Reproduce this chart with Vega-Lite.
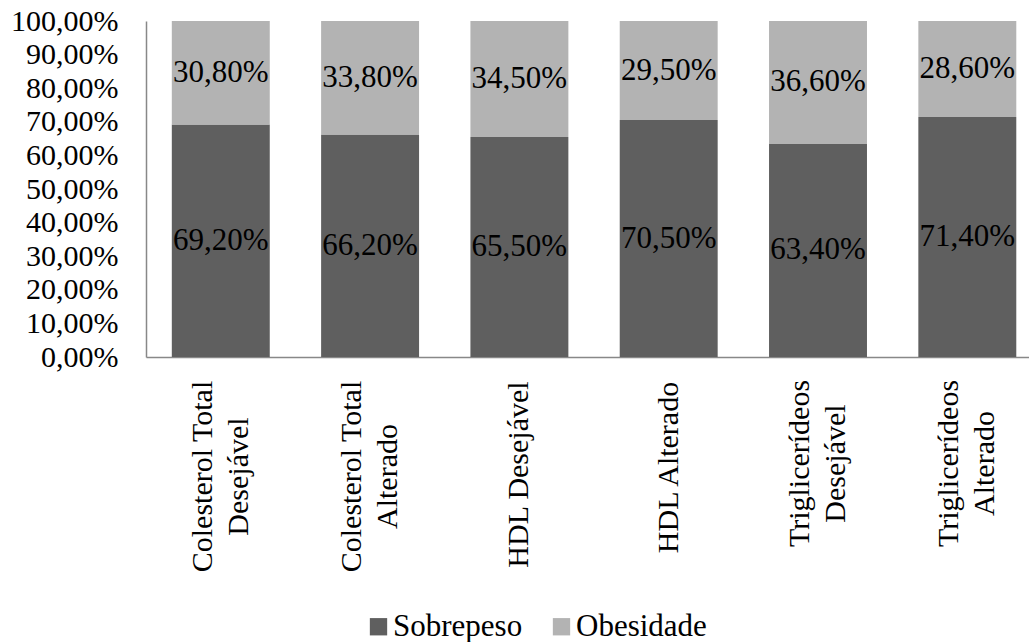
{
  "$schema": "https://vega.github.io/schema/vega-lite/v6.json",
  "width": 883,
  "height": 336,
  "autosize": {"type": "none"},
  "padding": {"left": 146, "top": 21, "right": 0, "bottom": 285},
  "config": {
    "locale": {"number": {"decimal": ",", "thousands": ".", "grouping": [3], "currency": ["", " €"]}},
    "view": {"stroke": null},
    "font": "'Liberation Serif', 'Times New Roman', serif",
    "axis": {"labelFont": "'Liberation Serif', 'Times New Roman', serif"},
    "legend": {"labelFont": "'Liberation Serif', 'Times New Roman', serif"},
    "text": {"font": "'Liberation Serif', 'Times New Roman', serif"}
  },
  "data": {
    "values": [
      {"cat": "Colesterol Total|Desejável", "serie": "Sobrepeso", "v": 0.692},
      {"cat": "Colesterol Total|Desejável", "serie": "Obesidade", "v": 0.308},
      {"cat": "Colesterol Total|Alterado", "serie": "Sobrepeso", "v": 0.662},
      {"cat": "Colesterol Total|Alterado", "serie": "Obesidade", "v": 0.338},
      {"cat": "HDL Desejável", "serie": "Sobrepeso", "v": 0.655},
      {"cat": "HDL Desejável", "serie": "Obesidade", "v": 0.345},
      {"cat": "HDL Alterado", "serie": "Sobrepeso", "v": 0.705},
      {"cat": "HDL Alterado", "serie": "Obesidade", "v": 0.295},
      {"cat": "Triglicerídeos|Desejável", "serie": "Sobrepeso", "v": 0.634},
      {"cat": "Triglicerídeos|Desejável", "serie": "Obesidade", "v": 0.366},
      {"cat": "Triglicerídeos|Alterado", "serie": "Sobrepeso", "v": 0.714},
      {"cat": "Triglicerídeos|Alterado", "serie": "Obesidade", "v": 0.286}
    ]
  },
  "transform": [
    {"stack": "v", "groupby": ["cat"], "sort": [{"field": "serie", "order": "descending"}], "as": ["v0", "v1"]},
    {"calculate": "(datum.v0 + datum.v1) / 2", "as": "vmid"}
  ],
  "encoding": {
    "x": {
      "field": "cat",
      "type": "nominal",
      "sort": null,
      "scale": {"paddingInner": 0.344, "paddingOuter": 0.129, "align": 0.67},
      "axis": {
        "title": null,
        "labelAngle": -90,
        "labelAlign": "center",
        "labelBaseline": "middle",
        "labelExpr": "split(datum.label, '|')",
        "labelOffset": {"condition": {"test": "indexof(datum.value, '|') >= 0", "value": -18}, "value": 0},
        "labelPadding": {
          "condition": [
            {"test": "indexof(datum.value, 'Colesterol') >= 0", "value": 119},
            {"test": "datum.value === 'HDL Desejável'", "value": 117},
            {"test": "datum.value === 'HDL Alterado'", "value": 110}
          ],
          "value": 106
        },
        "ticks": false,
        "labelFontSize": 30,
        "labelColor": "#000000",
        "labelLineHeight": 36,
        "labelLimit": 0,
        "labelOverlap": false,
        "domainColor": "#888888",
        "domainWidth": 1.5
      }
    },
    "y": {
      "type": "quantitative",
      "scale": {"domain": [0, 1], "nice": false},
      "axis": {
        "title": null,
        "values": [0, 0.1, 0.2, 0.3, 0.4, 0.5, 0.6, 0.7, 0.8, 0.9, 1],
        "format": ".2%",
        "ticks": false,
        "grid": false,
        "labelFontSize": 30,
        "labelColor": "#000000",
        "labelPadding": 28,
        "labelOverlap": false,
        "labelFlush": false,
        "domainColor": "#888888",
        "domainWidth": 1.5
      }
    }
  },
  "layer": [
    {
      "mark": {"type": "bar"},
      "encoding": {
        "y": {"field": "v1"},
        "y2": {"field": "v0"},
        "color": {
          "field": "serie",
          "type": "nominal",
          "scale": {"domain": ["Sobrepeso", "Obesidade"], "range": ["#5f5f5f", "#b3b3b3"]},
          "legend": {
            "orient": "none",
            "legendX": 217,
            "legendY": 590,
            "direction": "horizontal",
            "title": null,
            "symbolType": "square",
            "symbolSize": 300,
            "symbolStrokeWidth": 0,
            "labelFontSize": 31,
            "labelColor": "#000000",
            "labelOffset": -1,
            "columnPadding": 23,
            "padding": 0
          }
        }
      }
    },
    {
      "mark": {"type": "text", "fontSize": 31, "color": "#000000"},
      "encoding": {
        "y": {"field": "vmid"},
        "text": {"field": "v", "type": "quantitative", "format": ".2%"}
      }
    }
  ]
}
